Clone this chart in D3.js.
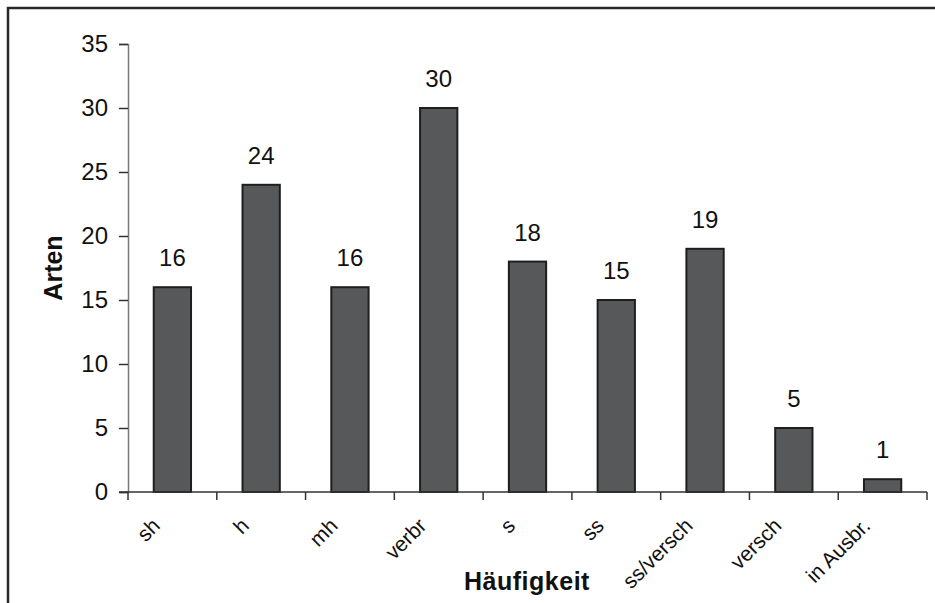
<!DOCTYPE html>
<html>
<head>
<meta charset="utf-8">
<script src="https://cdn.jsdelivr.net/npm/d3@7"></script>
<style>
  body { margin: 0; background: #fff; }
  svg { display: block; font-family: Arial, "Liberation Sans", sans-serif; }
</style>
</head>
<body>
<svg id="chart" width="935" height="603"></svg>
<script>
// Häufigkeitsklassen und Anzahl der Arten
const categories = ["sh", "h", "mh", "verbr", "s", "ss", "ss/versch", "versch", "in Ausbr."];
const counts = [16, 24, 16, 30, 18, 15, 19, 5, 1];
const yTicks = [0, 5, 10, 15, 20, 25, 30, 35];

const svg = d3.select("#chart");
const W = 935, H = 603;
const plotLeft = 128, plotRight = 927;

// outer frame (top and left edges)
svg.append("path")
  .attr("d", `M8,${H} L8,8 L${W},8`)
  .attr("fill", "none")
  .attr("stroke", "#2a2a2a")
  .attr("stroke-width", 2.5);

const x = d3.scaleBand()
  .domain(categories)
  .range([plotLeft, plotRight])
  .paddingInner(0.58)
  .paddingOuter(0.29);

const y = d3.scaleLinear().domain([0, 35]).range([492, 44]);

// y axis
const yAxis = svg.append("g")
  .attr("transform", `translate(${plotLeft},0)`)
  .call(d3.axisLeft(y).tickValues(yTicks).tickSize(9).tickPadding(11));
yAxis.select(".domain").attr("stroke", "#777").attr("stroke-width", 1.5);
yAxis.selectAll(".tick line").attr("stroke", "#333").attr("stroke-width", 1.5);
yAxis.selectAll(".tick text").attr("font-size", 24).attr("fill", "#111")
  .attr("font-family", "Arial, 'Liberation Sans', sans-serif");

// bars
svg.append("g").selectAll("rect")
  .data(counts)
  .join("rect")
  .attr("x", (d, i) => x(categories[i]))
  .attr("y", d => y(d))
  .attr("width", x.bandwidth())
  .attr("height", d => y(0) - y(d))
  .attr("fill", "#57585a")
  .attr("stroke", "#1e1e1e")
  .attr("stroke-width", 2);

// value labels
svg.append("g").selectAll("text")
  .data(counts)
  .join("text")
  .attr("x", (d, i) => x(categories[i]) + x.bandwidth() / 2)
  .attr("y", d => y(d) - 21)
  .attr("text-anchor", "middle")
  .attr("font-size", 24)
  .attr("fill", "#111")
  .text(d => d);

// x axis with ticks at band boundaries
const xAxisG = svg.append("g");
xAxisG.append("line")
  .attr("x1", plotLeft - 9).attr("x2", plotRight)
  .attr("y1", y(0)).attr("y2", y(0))
  .attr("stroke", "#333").attr("stroke-width", 1.5);
const step = (plotRight - plotLeft) / categories.length;
const boundaries = d3.range(categories.length + 1).map(i => plotLeft + i * step);
xAxisG.selectAll("line.tick")
  .data(boundaries)
  .join("line")
  .attr("class", "tick")
  .attr("x1", d => d).attr("x2", d => d)
  .attr("y1", y(0)).attr("y2", y(0) + 8)
  .attr("stroke", "#333").attr("stroke-width", 1.5);

// category labels, rotated
xAxisG.selectAll("text")
  .data(categories)
  .join("text")
  .attr("transform", d => `translate(${x(d) + x.bandwidth() / 2 - 11},${y(0) + 35}) rotate(-45)`)
  .attr("text-anchor", "end")
  .attr("font-size", 21)
  .attr("fill", "#111")
  .text(d => d);

// axis titles
svg.append("text")
  .attr("transform", `translate(62,268) rotate(-90)`)
  .attr("text-anchor", "middle")
  .attr("font-size", 25)
  .attr("font-weight", "bold")
  .attr("fill", "#111")
  .text("Arten");

svg.append("text")
  .attr("x", 527)
  .attr("y", 590)
  .attr("text-anchor", "middle")
  .attr("font-size", 25)
  .attr("font-weight", "bold")
  .attr("letter-spacing", 0.5)
  .attr("fill", "#111")
  .text("Häufigkeit");
</script>
</body>
</html>
